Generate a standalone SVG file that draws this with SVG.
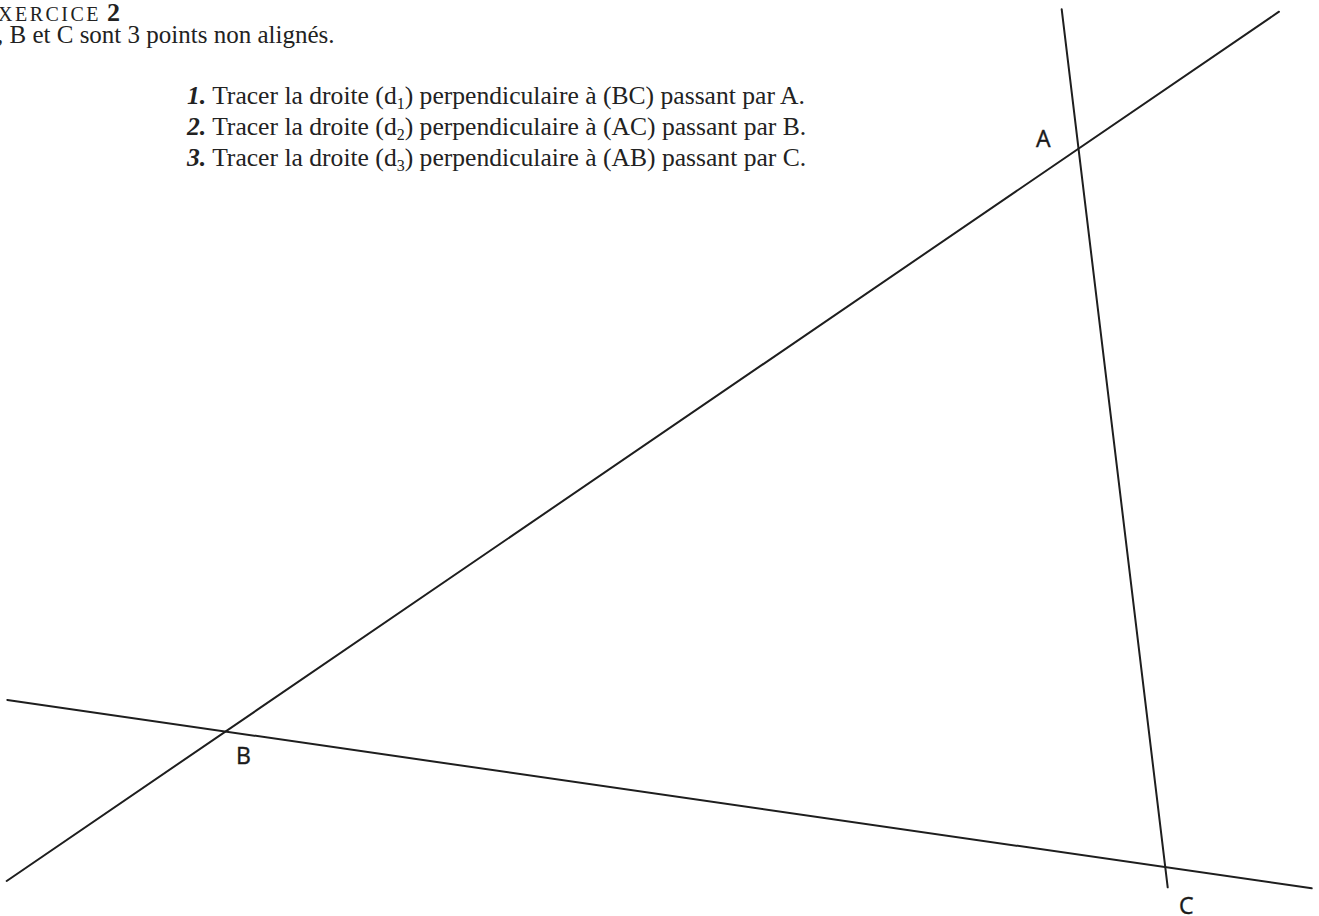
<svg xmlns="http://www.w3.org/2000/svg" width="1319" height="916" viewBox="0 0 1319 916">
<style>
.bg{fill:#ffffff}
.txt{font-family:"Liberation Serif","Times New Roman",serif;font-size:25.6px;fill:#222}
.txt2{font-family:"Liberation Serif","Times New Roman",serif;font-size:25px;fill:#222}
.num{font-style:italic;font-weight:bold}
.sub{font-size:16px}
.ttl{font-family:"Liberation Serif","Times New Roman",serif;fill:#222}
.lbl{font-family:"Open Sans","Liberation Sans",sans-serif;font-size:23px;fill:#1a1a1a;stroke:#1a1a1a;stroke-width:0.4}
.ln{stroke:#1e1e1e;stroke-width:2;stroke-linecap:round;fill:none}
</style>
<rect class="bg" x="0" y="0" width="1319" height="916"/>
<g id="statement">
<text class="ttl" x="-2" y="21"><tspan font-size="20" letter-spacing="2.5">XERCICE</tspan><tspan font-size="26" font-weight="bold" dx="6">2</tspan></text>
<text class="txt2" x="-3" y="43">, B et C sont 3 points non alignés.</text>
<text class="txt" x="187" y="104"><tspan class="num">1.</tspan> Tracer la droite (d<tspan class="sub" dy="5">1</tspan><tspan dy="-5">) perpendiculaire à (BC) passant par A.</tspan></text>
<text class="txt" x="187" y="135"><tspan class="num">2.</tspan> Tracer la droite (d<tspan class="sub" dy="5">2</tspan><tspan dy="-5">) perpendiculaire à (AC) passant par B.</tspan></text>
<text class="txt" x="187" y="166"><tspan class="num">3.</tspan> Tracer la droite (d<tspan class="sub" dy="5">3</tspan><tspan dy="-5">) perpendiculaire à (AB) passant par C.</tspan></text>
</g>
<g id="connectors">
<line id="line-AB" class="ln" x1="6.7" y1="881" x2="1279" y2="11.7"/>
<line id="line-AC" class="ln" x1="1061.7" y1="9.3" x2="1167.7" y2="887.3"/>
<line id="line-BC" class="ln" x1="7.3" y1="700" x2="1311.7" y2="888.3"/>
</g>
<g id="node-A"><text class="lbl" x="1036" y="147">A</text></g>
<g id="node-B"><text class="lbl" x="236" y="764">B</text></g>
<g id="node-C"><text class="lbl" x="1179" y="914">C</text></g>
</svg>
